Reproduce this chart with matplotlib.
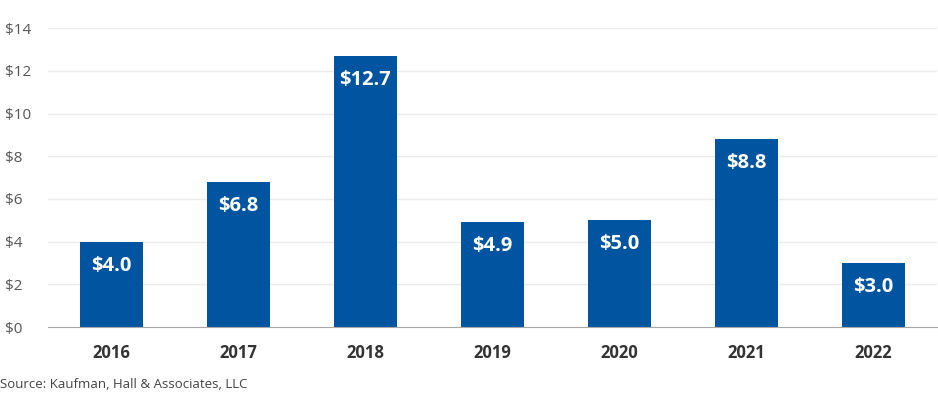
import matplotlib.pyplot as plt
import numpy as np

plt.rcParams['font.family'] = ['Open Sans', 'DejaVu Sans']

years = ['2016', '2017', '2018', '2019', '2020', '2021', '2022']
values = [4.0, 6.8, 12.7, 4.9, 5.0, 8.8, 3.0]
yticks = [0, 2, 4, 6, 8, 10, 12, 14]
ytick_labels = ['$0', '$2', '$4', '$6', '$8', '$10', '$12', '$14']

fig = plt.figure(figsize=(9.38, 3.96), dpi=100)
ax = fig.add_axes([0.051, 0.174, 0.948, 0.755])

x = np.arange(len(years))
bars = ax.bar(x, values, width=0.5, color='#0054A0', zorder=3)

# value labels inside bars
for xi, v in zip(x, values):
    ax.annotate(f'${v:.1f}', (xi, v), xytext=(0, -24), textcoords='offset pixels',
                ha='center', va='center', color='white', fontsize=14.5, fontweight='bold')

ax.set_xlim(-0.5, len(years) - 0.5)
ax.set_ylim(0, 14)
ax.set_yticks(yticks)
ax.set_yticklabels(ytick_labels)
ax.set_xticks(x)
ax.set_xticklabels(years, fontweight='bold')

ax.grid(axis='y', color='#ebebeb', linewidth=1, zorder=0)
for s in ['top', 'right', 'left']:
    ax.spines[s].set_visible(False)
ax.spines['bottom'].set_color('#a8a8a8')
ax.spines['bottom'].set_zorder(4)

ax.tick_params(axis='y', length=0, pad=31, labelsize=11, labelcolor='#555555')
for lbl in ax.get_yticklabels():
    lbl.set_horizontalalignment('left')
ax.tick_params(axis='x', length=0, pad=12, labelsize=12, labelcolor='#333333')

fig.text(0.0, 1 - 384 / 396, 'Source: Kaufman, Hall & Associates, LLC',
         ha='left', va='center', fontsize=9.5, color='#444444')

fig.savefig('out.png', dpi=100)
